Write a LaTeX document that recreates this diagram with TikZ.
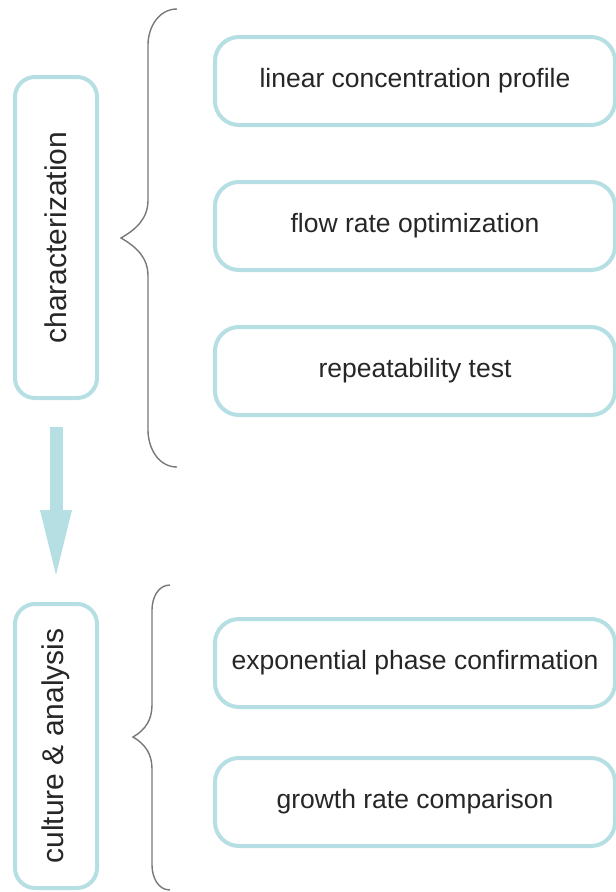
\documentclass[tikz,border=0pt]{standalone}
\usepackage{fontspec}
\setmainfont{Liberation Sans}
\usetikzlibrary{positioning}
\usetikzlibrary{arrows.meta}

\definecolor{tealedge}{RGB}{182,223,227}
\definecolor{bracegray}{RGB}{120,120,120}

\begin{document}
\begin{tikzpicture}[x=1pt, y=1pt, node distance = 53pt,
	stage/.style = {rectangle, draw=tealedge, line width=4pt, rounded corners=20pt,
		rotate=90, minimum height=82pt, text=black!85,
		font=\fontsize{30}{34}\selectfont},
	task/.style = {rectangle, draw=tealedge, line width=4pt, rounded corners=24pt,
		minimum width=400pt, minimum height=88pt, text=black!85,
		font=\fontsize{26.5}{30}\selectfont},
	brace/.style = {draw=bracegray, line width=1.4pt}]
	
	\useasboundingbox (0,0) rectangle (616,-892);
	
	% left column: the two stages
	\node[stage, minimum width=321pt] (char) at (56,-237.5) {characterization};
	\node[stage, minimum width=284pt] (cult) at (56,-746) {culture \& analysis};
	
	% arrow between the stages
	\draw [tealedge, line width=13pt, shorten <=27pt, shorten >=27pt,
		-{Triangle[width=32pt, length=65pt, line width=0pt]}]
	(char) -- (cult);
	
	% upper group of tasks
	\node[task] (linprof) at (415,-81) {linear concentration profile};
	\node[task] (flowopt) [below = of linprof] {flow rate optimization};
	\node[task] (repeat)  [below = of flowopt] {repeatability test};
	
	% lower group of tasks
	\node[task] (expphase) at (415,-663) {exponential phase confirmation};
	\node[task] (growth)   [below = 47pt of expphase] {growth rate comparison};
	
	% braces
	\draw[brace] (177,-9) to[out=180,in=90] (148,-45) -- (148,-200)
	to[out=-90,in=30] (121,-238) to[out=-30,in=90] (148,-276) -- (148,-430)
	to[out=-90,in=180] (177,-467);
	\draw[brace] (170,-585) to[out=180,in=90] (152,-610) -- (152,-705)
	to[out=-90,in=30] (133,-737) to[out=-30,in=90] (152,-769) -- (152,-865)
	to[out=-90,in=180] (170,-890);
\end{tikzpicture}
\end{document}
